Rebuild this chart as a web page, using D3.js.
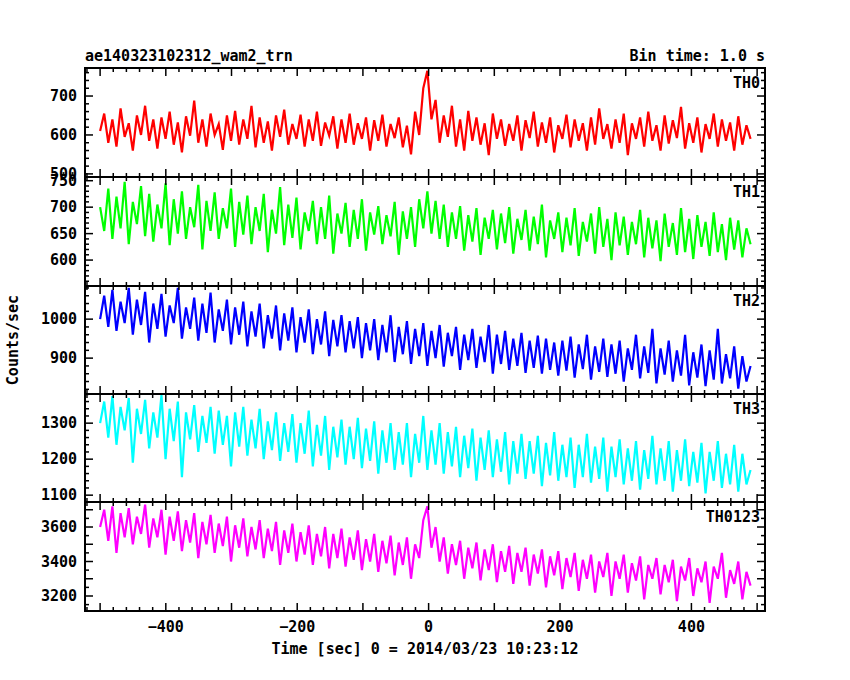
<!DOCTYPE html>
<html><head><meta charset="utf-8">
<script src="https://cdn.jsdelivr.net/npm/d3@7"></script>
<style>body{margin:0;background:#fff}text{font-family:"DejaVu Sans Mono",monospace;font-weight:bold;fill:#000}</style>
</head><body><div id="chart"></div>
<script>
// light curve values (1 s bins, sampled by eye from the plot)
let th0 = [610,655,580,640,570,668,595,630,560,650,600,675,585,640,565,645,590,660,575,632,
555,648,598,688,580,640,570,655,600,628,562,650,585,662,575,640,590,675,568,645,
580,635,560,650,595,665,575,628,590,652,570,640,585,660,572,632,598,648,565,640,
580,655,575,630,590,645,560,638,585,652,570,628,592,645,568,624,550,660,600,720,
765,640,690,580,650,595,675,570,640,560,662,585,645,575,630,548,655,590,640,572,
628,585,650,560,638,592,660,570,632,580,645,555,625,590,652,568,640,585,630,560,
645,575,668,590,628,565,640,580,655,548,630,590,645,570,660,585,625,560,650,578,
638,592,672,565,630,580,645,555,628,590,655,570,640,585,632,560,648,575,625,590];
let th1 = [700,655,735,640,720,660,748,630,710,668,740,645,725,635,705,660,745,628,715,650,
730,640,700,662,742,620,712,655,728,640,698,660,735,625,710,648,722,630,700,655,
725,615,695,650,738,628,705,642,718,620,690,655,712,630,700,640,722,612,688,650,
708,625,695,640,715,618,690,648,702,630,685,645,710,610,692,640,700,625,715,660,
730,650,712,640,705,625,690,640,702,618,685,635,698,610,680,640,695,620,688,632,
700,612,678,638,695,618,682,630,705,605,675,640,690,615,680,628,698,608,672,635,
688,612,700,625,678,600,690,628,682,610,672,630,695,605,680,622,675,598,688,625,
670,610,698,615,678,602,685,625,672,608,690,615,668,600,680,620,675,605,660,630];
let th2 = [1000,1060,980,1075,970,1045,990,1080,960,1050,985,1070,940,1040,975,1065,955,1035,990,1080,
950,1030,975,1055,945,1040,965,1068,940,1025,970,1050,935,1030,960,1045,930,1020,955,1040,
925,1010,950,1035,920,1015,945,1030,915,1005,940,1025,910,1000,935,1020,905,998,930,1010,
915,995,925,1005,900,990,920,1000,895,985,915,1010,890,980,910,995,885,975,905,990,
880,970,900,985,878,965,905,980,870,960,895,975,875,955,890,985,860,960,885,970,
870,950,880,965,862,945,875,958,860,950,870,940,855,945,868,955,850,935,872,960,
845,930,865,950,852,935,860,945,840,925,870,960,848,930,862,975,835,925,858,945,
840,920,855,960,830,915,850,935,828,920,845,975,835,910,848,930,822,905,840,880];
let th3 = [1300,1360,1260,1375,1240,1345,1280,1370,1190,1340,1270,1365,1230,1330,1260,1378,1200,1340,1250,1360,
1150,1330,1255,1350,1220,1320,1245,1345,1215,1335,1240,1320,1180,1330,1235,1345,1210,1310,1230,1340,
1200,1305,1225,1330,1195,1300,1220,1325,1190,1300,1215,1335,1180,1295,1210,1320,1170,1290,1205,1310,
1185,1290,1200,1315,1175,1285,1195,1305,1160,1280,1190,1300,1170,1275,1185,1300,1150,1270,1190,1320,
1170,1280,1185,1300,1160,1275,1180,1290,1150,1265,1175,1285,1140,1260,1170,1280,1150,1255,1165,1275,
1130,1250,1160,1270,1145,1250,1160,1265,1125,1245,1155,1275,1140,1240,1150,1260,1120,1240,1150,1270,
1135,1235,1145,1260,1110,1235,1150,1255,1130,1230,1140,1250,1115,1225,1145,1265,1130,1230,1140,1250,
1110,1225,1140,1255,1125,1220,1135,1245,1105,1220,1140,1250,1120,1215,1130,1240,1110,1215,1130,1170];
let th0123 = [3600,3700,3520,3720,3450,3680,3540,3710,3500,3660,3560,3730,3480,3650,3540,3700,3440,3660,3520,3690,
3460,3640,3510,3680,3420,3630,3500,3670,3450,3620,3490,3660,3400,3610,3480,3650,3430,3600,3470,3640,
3420,3590,3460,3630,3380,3580,3450,3620,3400,3570,3440,3610,3380,3560,3430,3600,3360,3560,3420,3590,
3370,3540,3410,3580,3350,3530,3400,3560,3340,3520,3390,3550,3320,3510,3380,3540,3300,3500,3420,3640,
3720,3480,3600,3400,3540,3330,3500,3380,3520,3300,3480,3360,3510,3290,3470,3350,3500,3280,3460,3340,
3490,3270,3450,3340,3480,3260,3440,3330,3470,3250,3430,3320,3460,3240,3420,3310,3450,3230,3410,3300,
3440,3220,3400,3310,3450,3200,3400,3300,3440,3220,3390,3290,3430,3180,3380,3300,3420,3210,3380,3280,
3410,3170,3370,3290,3420,3200,3360,3280,3400,3160,3370,3300,3450,3190,3350,3270,3400,3180,3340,3260];

let names = ["TH0", "TH1", "TH2", "TH3", "TH0123"];
let colors = ["#ff0000", "#00ff00", "#0000ff", "#00ffff", "#ff00ff"];
let series = [th0, th1, th2, th3, th0123];
let yDomains = [[492, 772], [551, 757], [808, 1085], [1081, 1381], [3113, 3745]];
let yTicks = [[500, 600, 700], [600, 650, 700, 750], [900, 1000], [1100, 1200, 1300], [3200, 3400, 3600]];
let yMinor = [20, 10, 20, 20, 50];
let xTickLabels = [-400, -200, 0, 200, 400];
let tStart = -500, tEnd = 490;

let W = 850, H = 680;
let left = 85, right = 765;
let bounds = [68, 177, 286, 394, 502, 611];

let svg = d3.select("#chart").append("svg").attr("width", W).attr("height", H);
let x = d3.scaleLinear().domain([-523, 512]).range([left, right]);

series.forEach(function (vals, k) {
  let top = bounds[k], bot = bounds[k + 1];
  let y = d3.scaleLinear().domain(yDomains[k]).range([bot, top]);
  let n = vals.length;
  let pts = vals.map((v, i) => [tStart + i * (tEnd - tStart) / (n - 1), v]);

  let g = svg.append("g");
  g.append("defs").append("clipPath").attr("id", "c" + k)
    .append("rect").attr("x", left).attr("y", top).attr("width", right - left).attr("height", bot - top);
  g.append("path").datum(pts)
    .attr("clip-path", "url(#c" + k + ")")
    .attr("fill", "none").attr("stroke", colors[k]).attr("stroke-width", 2.2)
    .attr("d", d3.line().x(d => x(d[0])).y(d => y(d[1])));

  // x ticks top & bottom
  d3.range(-520, 512, 20).forEach(function (t) {
    let len = t % 100 === 0 ? 8 : 4;
    g.append("line").attr("x1", x(t)).attr("x2", x(t)).attr("y1", bot).attr("y2", bot - len).attr("stroke", "#000").attr("stroke-width", 1.5);
    g.append("line").attr("x1", x(t)).attr("x2", x(t)).attr("y1", top).attr("y2", top + len).attr("stroke", "#000").attr("stroke-width", 1.5);
  });
  // y ticks left & right
  let d0 = Math.ceil(yDomains[k][0] / yMinor[k]) * yMinor[k];
  d3.range(d0, yDomains[k][1], yMinor[k]).forEach(function (v) {
    let major = k === 1 ? v % 50 === 0 : v % 100 === 0;
    let len = major ? 8 : 4;
    g.append("line").attr("x1", left).attr("x2", left + len).attr("y1", y(v)).attr("y2", y(v)).attr("stroke", "#000").attr("stroke-width", 1.5);
    g.append("line").attr("x1", right).attr("x2", right - len).attr("y1", y(v)).attr("y2", y(v)).attr("stroke", "#000").attr("stroke-width", 1.5);
  });
  yTicks[k].forEach(function (v) {
    g.append("text").attr("x", left - 8).attr("y", y(v) + 5).attr("text-anchor", "end")
      .attr("font-size", 15).text(v);
  });
  g.append("rect").attr("x", left).attr("y", top).attr("width", right - left).attr("height", bot - top)
    .attr("fill", "none").attr("stroke", "#000").attr("stroke-width", 2);
  g.append("text").attr("x", right - 5).attr("y", top + 20).attr("text-anchor", "end")
    .attr("font-size", 15).text(names[k]);
});

xTickLabels.forEach(function (t) {
  svg.append("text").attr("x", x(t)).attr("y", 632).attr("text-anchor", "middle").attr("font-size", 15).text(t < 0 ? "\u2212" + (-t) : t);
});

svg.append("text").attr("x", left).attr("y", 61).attr("font-size", 15).text("ae140323102312_wam2_trn");
svg.append("text").attr("x", right).attr("y", 61).attr("text-anchor", "end").attr("font-size", 15).text("Bin time: 1.0 s");
svg.append("text").attr("x", (left + right) / 2).attr("y", 654).attr("text-anchor", "middle").attr("font-size", 15)
  .text("Time [sec] 0 = 2014/03/23 10:23:12");
svg.append("text").attr("transform", "translate(18,340) rotate(-90)").attr("text-anchor", "middle").attr("font-size", 15).text("Counts/sec");
</script></body></html>
